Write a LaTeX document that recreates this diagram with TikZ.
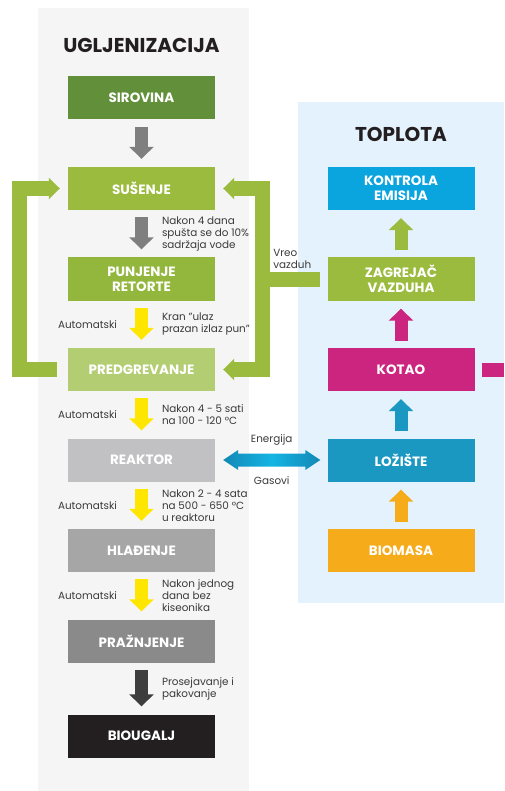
\documentclass[tikz,border=0pt]{standalone}
\usepackage{fontspec}
\setmainfont{Poppins}
\usetikzlibrary{arrows.meta,calc}

\definecolor{panelgray}{HTML}{F5F5F5}
\definecolor{panelblue}{HTML}{E3F2FC}
\definecolor{titleblack}{HTML}{231F20}
\definecolor{notegray}{HTML}{3A3A3A}
\definecolor{darkgreen}{HTML}{62903A}
\definecolor{midgreen}{HTML}{9BBB3E}
\definecolor{retortgreen}{HTML}{93B63C}
\definecolor{lightgreen}{HTML}{B3CD72}
\definecolor{reaktorgray}{HTML}{C1C1C3}
\definecolor{coolgray}{HTML}{A6A6A6}
\definecolor{emptygray}{HTML}{8A8A8A}
\definecolor{charblack}{HTML}{231F20}
\definecolor{arrowgray}{HTML}{7F7F7F}
\definecolor{arrowdark}{HTML}{3D3D3D}
\definecolor{autoyellow}{HTML}{FFE600}
\definecolor{emisblue}{HTML}{0AA4DF}
\definecolor{furnaceteal}{HTML}{1A98C1}
\definecolor{kotaomag}{HTML}{CB2580}
\definecolor{biomasorange}{HTML}{F6AB1A}
\definecolor{gasteal}{HTML}{1288B5}
\definecolor{gascyan}{HTML}{14B4E4}

\begin{document}
\begin{tikzpicture}[x=1pt, y=-1pt, node distance=90.5pt]
    \tikzstyle{box} = [rectangle, minimum width=147pt, minimum height=43pt, inner sep=0pt, align=center, text=white, font=\fontsize{13.5}{15}\selectfont\bfseries]
    \tikzstyle{title} = [text=titleblack, font=\fontsize{20}{23}\selectfont\bfseries]
    \tikzstyle{note} = [text=notegray, align=left, inner sep=0pt, outer sep=0pt, font=\fontsize{10.4}{12}\selectfont]
    \tikzstyle{flow} = [line width=13pt, -{Triangle[width=24pt, length=12pt]}, shorten <=7pt, shorten >=8pt]
    \tikzstyle{band} = [line width=15pt, color=midgreen, -{Triangle[width=21pt, length=11pt]}]

    \useasboundingbox (0,0) rectangle (504,791);
    \fill[panelgray] (38,8) rectangle (249,791);
    \fill[panelblue] (298,102) rectangle (504,603);

    \node[box, fill=darkgreen] (sirovina) at (141.5,98) {SIROVINA};
    \node[box, fill=midgreen, below of=sirovina] (susenje) {SUŠENJE};
    \node[box, fill=retortgreen, below of=susenje] (punjenje) {PUNJENJE\\RETORTE};
    \node[box, fill=lightgreen, below of=punjenje] (predgrevanje) {PREDGREVANJE};
    \node[box, fill=reaktorgray, below of=predgrevanje] (reaktor) {REAKTOR};
    \node[box, fill=coolgray, below of=reaktor] (hladjenje) {HLAĐENJE};
    \node[box, fill=emptygray, below of=hladjenje] (praznjenje) {PRAŽNJENJE};
    \node[box, fill=charblack, below of=praznjenje, node distance=95pt] (biougalj) {BIOUGALJ};
    \node[title, above of=sirovina, node distance=53pt] (ugljen) {UGLJENIZACIJA};

    \node[box, fill=kotaomag, right of=predgrevanje, node distance=259.5pt] (kotao) {KOTAO};
    \node[box, fill=midgreen, above of=kotao] (zagrejac) {ZAGREJAČ\\VAZDUHA};
    \node[box, fill=emisblue, above of=zagrejac] (kontrola) {KONTROLA\\EMISIJA};
    \node[box, fill=furnaceteal, below of=kotao] (loziste) {LOŽIŠTE};
    \node[box, fill=biomasorange, below of=loziste] (biomasa) {BIOMASA};
    \node[title, above of=kontrola, node distance=54pt] (toplota) {TOPLOTA};

    \draw[flow, color=arrowgray] (sirovina) -- (susenje);
    \draw[flow, color=arrowgray] (susenje) -- node[note, anchor=west, xshift=20.5pt] (n1) {Nakon 4 dana\\spušta se do 10\%\\sadržaja vode} (punjenje);
    \draw[flow, color=autoyellow] (punjenje) -- node[note, anchor=east, xshift=-24.5pt] (a1) {Automatski}
        node[note, anchor=west, xshift=20.5pt] (n2) {Kran "ulaz\\prazan izlaz pun"} (predgrevanje);
    \draw[flow, color=autoyellow] (predgrevanje) -- node[note, anchor=east, xshift=-24.5pt] (a2) {Automatski}
        node[note, anchor=west, xshift=20.5pt] (n3) {Nakon 4 - 5 sati\\na 100 - 120 °C} (reaktor);
    \draw[flow, color=autoyellow] (reaktor) -- node[note, anchor=east, xshift=-24.5pt] (a3) {Automatski}
        node[note, anchor=west, xshift=20.5pt] (n4) {Nakon 2 - 4 sata\\na 500 - 650 °C\\u reaktoru} (hladjenje);
    \draw[flow, color=autoyellow] (hladjenje) -- node[note, anchor=east, xshift=-24.5pt] (a4) {Automatski}
        node[note, anchor=west, xshift=20.5pt] (n5) {Nakon jednog\\dana bez\\kiseonika} (praznjenje);
    \draw[flow, color=arrowdark] (praznjenje) -- node[note, anchor=west, xshift=20.5pt] (n6) {Prosejavanje i\\pakovanje} (biougalj);

    \draw[flow, color=biomasorange] (biomasa) -- (loziste);
    \draw[flow, color=furnaceteal] (loziste) -- (kotao);
    \draw[flow, color=kotaomag] (kotao) -- (zagrejac);
    \draw[flow, color=midgreen] (zagrejac) -- (kontrola);

    \coordinate (rim) at (504,0);
    \draw[line width=14pt, color=kotaomag] ([xshift=7pt]kotao.east) -- (kotao.east -| rim);

    \draw[band] ([xshift=-11pt]predgrevanje.west) -- ++(-37.5,0) |- ([xshift=-8pt]susenje.west);
    \coordinate (split) at ([xshift=-64.5pt]zagrejac.west);
    \draw[band] ([xshift=-7pt]zagrejac.west) -- (split) |- ([xshift=8pt]susenje.east);
    \draw[band] (split) |- ([xshift=8pt]predgrevanje.east);
    \node[note, anchor=south west] (vreo) at ([xshift=10.5pt, yshift=10pt]split) {Vreo\\vazduh};

    \coordinate (ea) at ([xshift=8pt]reaktor.east);
    \coordinate (eb) at ([xshift=-7pt]loziste.west);
    \shade[left color=gasteal, right color=gasteal, middle color=gascyan]
        (ea) -- ([shift={(15pt,10pt)}]ea) -- ([shift={(15pt,6.5pt)}]ea) -- ([shift={(-15pt,6.5pt)}]eb)
        -- ([shift={(-15pt,10pt)}]eb) -- (eb) -- ([shift={(-15pt,-10pt)}]eb) -- ([shift={(-15pt,-6.5pt)}]eb)
        -- ([shift={(15pt,-6.5pt)}]ea) -- ([shift={(15pt,-10pt)}]ea) -- cycle;
    \node[note, yshift=20pt] (energija) at ($(ea)!0.5!(eb)$) {Energija};
    \node[note, yshift=-21pt] (gasovi) at ($(ea)!0.5!(eb)$) {Gasovi};
\end{tikzpicture}
\end{document}
